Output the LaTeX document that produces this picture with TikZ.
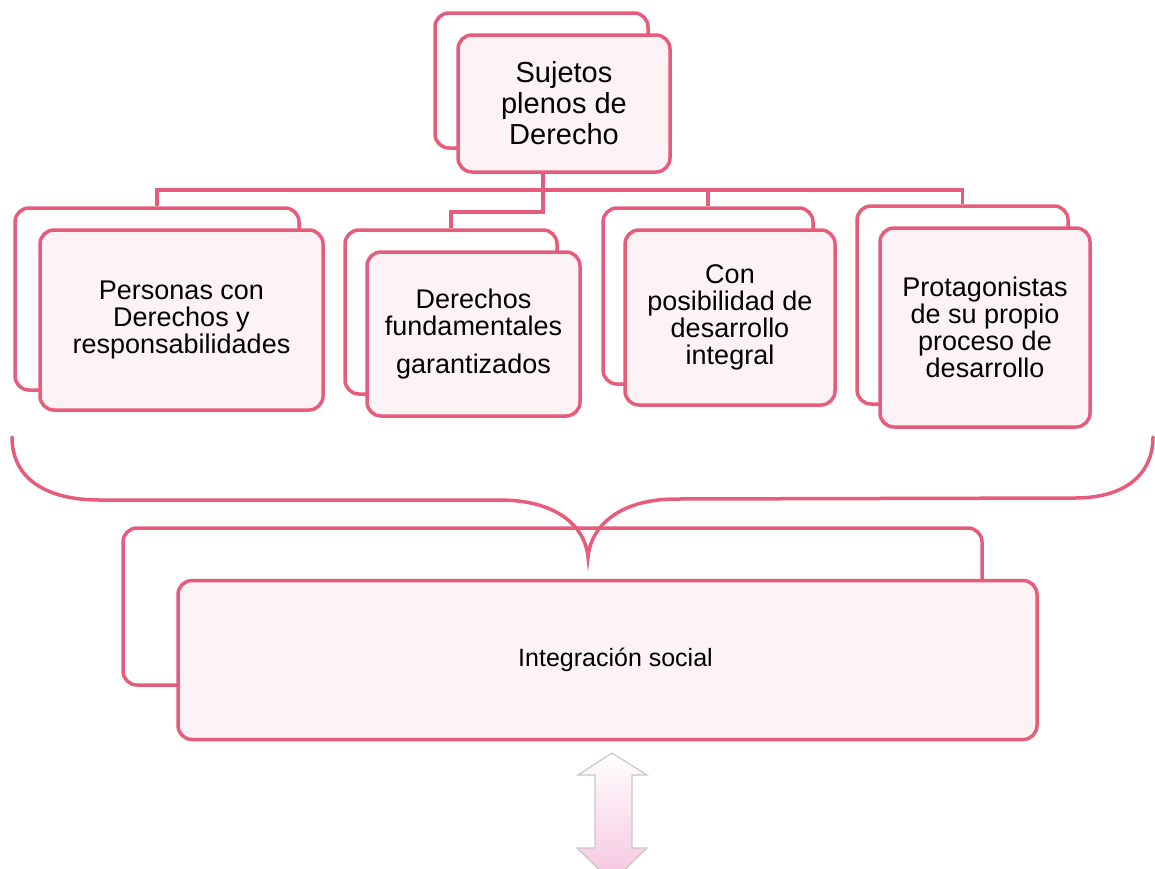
\documentclass[tikz,border=0pt]{standalone}
\usepackage{fontspec}
\setmainfont{Liberation Sans}
\definecolor{rim}{RGB}{230,92,122}
\definecolor{frontfill}{RGB}{253,242,246}
\definecolor{arrowpink}{RGB}{246,196,222}
\definecolor{arrowline}{RGB}{200,200,200}
\tikzset{
  box/.style={draw=rim, line width=3.5pt, rounded corners=14pt, inner sep=0pt, align=center, text=black},
  backbox/.style={box, fill=white},
  frontbox/.style={box, fill=frontfill, font=\fontsize{27}{27}\selectfont},
  conn/.style={draw=rim, line width=3.5pt},
}
\begin{document}
\begin{tikzpicture}[x=1pt,y=-1pt]
\clip (0,0) rectangle (1155,868);
\useasboundingbox (0,0) rectangle (1155,868);

% top
\node[backbox, minimum width=213pt, minimum height=135pt] (b0) at (541.5,80.5) {};
\node[frontbox, minimum width=212pt, minimum height=137pt, font=\fontsize{29}{31}\selectfont] (f0) at (564,103.5) {Sujetos\\plenos de\\Derecho};

% connectors
\coordinate (j) at (543,190);
\coordinate (k) at (543,212);

% second row back boxes
\node[backbox, minimum width=284pt, minimum height=182pt] (bP) at (157,299) {};
\node[backbox, minimum width=212pt, minimum height=164pt] (bD) at (451,312) {};
\node[backbox, minimum width=210pt, minimum height=176pt] (bC) at (708,296) {};
\node[backbox, minimum width=211pt, minimum height=198pt] (bR) at (962.5,305) {};

\draw[conn] (j |- f0.south) -- (j);
\draw[conn] (bP.north) -- (bP.north |- j) -- (bR.north |- j) -- (bR.north);
\draw[conn] (bC.north |- j) -- (bC.north);
\draw[conn] (j) -- (k) -| (bD.north);

% second row front boxes
\node[frontbox, minimum width=283pt, minimum height=180pt] (fP) at (181.5,320) {Personas con\\Derechos y\\responsabilidades};
\node[frontbox, minimum width=213pt, minimum height=164pt] (fD) at (473.5,334) {Derechos\\fundamentales\\[11pt]garantizados};
\node[frontbox, minimum width=210pt, minimum height=175pt] (fC) at (730,317.5) {Con\\posibilidad de\\desarrollo\\integral};
\node[frontbox, minimum width=210pt, minimum height=199pt] (fR) at (985,327.5) {Protagonistas\\de su propio\\proceso de\\desarrollo};

% integration back box
\node[backbox, minimum width=859pt, minimum height=157pt] (bI) at (552.5,606.5) {};

% brace
\draw[conn, line cap=round] (12,437) .. controls (12,478) and (45,500) .. (100,500)
  -- (500,500) .. controls (555,500) and (585,525) .. (588,557)
  .. controls (591,525) and (621,499) .. (676,499)
  -- (1075,498) .. controls (1128,498) and (1153,472) .. (1153,437);

% integration front box
\node[frontbox, minimum width=859pt, minimum height=159pt, font=\fontsize{25}{27}\selectfont] (fI) at (607.5,660) {\hspace{16pt}Integración social};

% double arrow
\shade[top color=white, bottom color=arrowpink, draw=arrowline, line width=1.2pt]
  (612,753) -- (647,775) -- (632,775) -- (632,848) -- (647,848) -- (612,882)
  -- (577,848) -- (595,848) -- (595,775) -- (578,775) -- cycle;
\end{tikzpicture}
\end{document}
